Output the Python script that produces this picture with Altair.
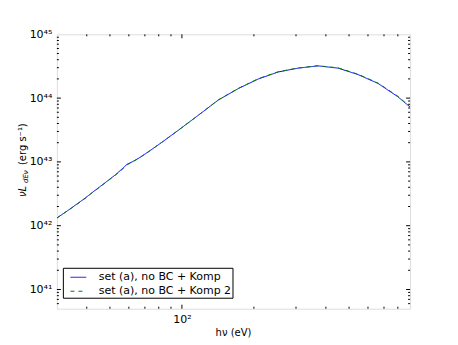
import altair as alt
import pandas as pd

# ---- data ----
energy_a = [30, 33.7, 38.3, 40.2, 41.5, 48.0, 52.8, 56.2, 59.0, 61.9, 66.1, 72.6, 82.6,
            96.9, 117, 142, 172, 209, 253, 306, 371, 450, 545, 661, 800, 900]
lum_a = [1.32e42, 1.78e42, 2.51e42, 2.88e42, 3.16e42, 4.79e42, 6.31e42, 7.76e42, 9.20e42,
         1.00e43, 1.15e43, 1.45e43, 2.04e43, 3.16e43, 5.37e43, 9.33e43, 1.41e44, 2.00e44,
         2.57e44, 2.95e44, 3.20e44, 2.95e44, 2.34e44, 1.70e44, 1.05e44, 7.24e43]
energy_b = [30, 33.7, 38.3, 40.2, 41.5, 48.0, 52.8, 56.2, 59.0, 61.9, 66.1, 72.6, 82.6,
            96.9, 117, 142, 172, 209, 253, 306, 371, 450, 545, 661, 800, 900]
lum_b = [1.32e42, 1.77e42, 2.48e42, 2.82e42, 3.13e42, 4.75e42, 6.25e42, 7.60e42, 9.00e42,
         9.90e42, 1.14e43, 1.45e43, 2.04e43, 3.16e43, 5.37e43, 9.40e43, 1.42e44, 2.02e44,
         2.59e44, 2.97e44, 3.22e44, 2.98e44, 2.37e44, 1.72e44, 1.07e44, 7.30e43]
series_names = ["set (a), no BC + Komp", "set (a), no BC + Komp 2"]

x_major = [100]
x_minor = [40, 50, 60, 70, 80, 90, 200, 300, 400, 500, 600, 700, 800]
y_major = [1e41, 1e42, 1e43, 1e44]
y_minor = [6e40, 7e40, 8e40, 9e40] + [m * 10.0 ** e for e in (41, 42, 43, 44) for m in range(2, 10)]
y_label_vals = [1e41, 1e42, 1e43, 1e44, 0.9999e45]
y_label_exp = [41, 42, 43, 44, 45]
y_label_txt = ["10⁴¹", "10⁴²", "10⁴³", "10⁴⁴", "10⁴⁵"]

W, H = 354, 275
FONT = "DejaVu Sans"

df = pd.concat([
    pd.DataFrame({"E": energy_a, "L": lum_a, "s": series_names[0], "o": 0}),
    pd.DataFrame({"E": energy_b, "L": lum_b, "s": series_names[1], "o": 1}),
])

xs = alt.Scale(type="log", domain=[30, 900], nice=False)
ys = alt.Scale(type="log", domain=[5e40, 1e45], nice=False)

ylabel_expr = ""
for e, t in zip(y_label_exp, y_label_txt):
    ylabel_expr += f"round(log(datum.value)/LN10) == {e} ? '{t}' : "
ylabel_expr += "''"

x_axis = alt.Axis(values=x_major, labelExpr="'10²'", tickSize=0, domain=False, grid=False,
                  labelPadding=5, labelFontSize=11, labelFont=FONT, labelColor="black",
                  title=None)
y_axis = alt.Axis(values=y_label_vals, labelExpr=ylabel_expr, tickSize=0, domain=False,
                  grid=False, labelPadding=5, labelFontSize=11, labelFont=FONT,
                  labelColor="black", title=None, labelFlush=False, labelOverlap=False)

legend = alt.Legend(orient="none", legendX=6, legendY=234, title=None,
                    strokeColor="black", fillColor="white", padding=1,
                    labelFontSize=11, labelFont=FONT, labelColor="black",
                    symbolType="stroke", symbolSize=250, symbolStrokeWidth=1,
                    labelLimit=400, cornerRadius=0, rowPadding=0, symbolOffset=6,
                    labelOffset=12, labelExpr="datum.label + '\u00a0\u00a0\u00a0\u00a0'")

lines = alt.Chart(df).mark_line(strokeWidth=1, clip=True).encode(
    x=alt.X("E:Q", scale=xs, axis=x_axis),
    y=alt.Y("L:Q", scale=ys, axis=y_axis),
    color=alt.Color("s:N", scale=alt.Scale(domain=series_names, range=["#0000ff", "#008000"]),
                    legend=legend),
    strokeDash=alt.StrokeDash("s:N", scale=alt.Scale(domain=series_names, range=[[1, 0], [4, 4]]),
                              legend=legend),
    order="o:Q",
)


def xticks(vals, length, top):
    d = pd.DataFrame({"v": vals})
    if top:
        yy, yy2 = alt.value(0), alt.value(length)
    else:
        yy, yy2 = alt.value(H), alt.value(H - length)
    return alt.Chart(d).mark_rule(color="black", strokeWidth=1).encode(
        x=alt.X("v:Q", scale=xs, axis=x_axis), y=yy, y2=yy2)


def yticks(vals, length, right):
    d = pd.DataFrame({"v": vals})
    if right:
        xx, xx2 = alt.value(W), alt.value(W - length)
    else:
        xx, xx2 = alt.value(0), alt.value(length)
    return alt.Chart(d).mark_rule(color="black", strokeWidth=1).encode(
        y=alt.Y("v:Q", scale=ys, axis=y_axis), x=xx, x2=xx2)


ticks = [xticks(x_major, 4, False), xticks(x_major, 4, True),
         xticks(x_minor, 2, False), xticks(x_minor, 2, True),
         yticks(y_major, 4, False), yticks(y_major, 4, True),
         yticks(y_minor, 2, False), yticks(y_minor, 2, True)]

one = pd.DataFrame({"t": ["x"]})
xtitle = alt.Chart(one).mark_text(text="hν (eV)", font=FONT, fontSize=10, color="black",
                                  baseline="middle", align="center").encode(
    x=alt.value(W / 2), y=alt.value(H + 24))
yt1 = alt.Chart(one).mark_text(text="νL", font=FONT, fontSize=10, fontStyle="italic", color="black",
                               angle=270, align="left", baseline="middle").encode(
    x=alt.value(-34), y=alt.value(163))
yt2 = alt.Chart(one).mark_text(text="dEν", font=FONT, fontSize=7, fontStyle="italic", color="black",
                               angle=270, align="left", baseline="middle").encode(
    x=alt.value(-31), y=alt.value(149))
yt3 = alt.Chart(one).mark_text(text="(erg s⁻¹)", font=FONT, fontSize=10, color="black",
                               angle=270, align="left", baseline="middle").encode(
    x=alt.value(-34), y=alt.value(131))

chart = alt.layer(lines, *ticks, xtitle, yt1, yt2, yt3).resolve_scale(
    x="shared", y="shared"
).properties(
    width=W, height=H,
    autosize=alt.AutoSizeParams(type="none"),
    padding={"left": 49, "top": 26, "right": 40, "bottom": 32},
).configure_view(stroke="black", strokeWidth=1).configure(background="white")

chart.save("out.html", embed_options={"renderer": "svg", "actions": False})
